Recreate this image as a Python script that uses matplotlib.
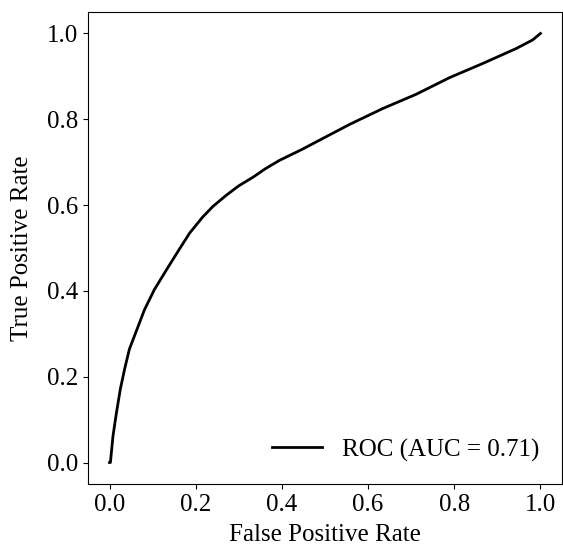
import matplotlib
matplotlib.use("Agg")
import matplotlib.pyplot as plt

fpr = [0.0, 0.002, 0.008, 0.016, 0.025, 0.035, 0.046, 0.062, 0.081, 0.104, 0.132,
       0.160, 0.186, 0.216, 0.240, 0.271, 0.300, 0.333, 0.362, 0.394, 0.449,
       0.500, 0.557, 0.634, 0.711, 0.789, 0.866, 0.944, 0.982, 1.0]
tpr = [0.0, 0.0, 0.062, 0.116, 0.171, 0.218, 0.264, 0.306, 0.356, 0.403, 0.449,
       0.494, 0.535, 0.572, 0.597, 0.623, 0.645, 0.665, 0.685, 0.704, 0.731,
       0.758, 0.788, 0.825, 0.858, 0.897, 0.930, 0.965, 0.985, 1.0]
auc = 0.71
ticks = [0.0, 0.2, 0.4, 0.6, 0.8, 1.0]

plt.rcParams['font.family'] = ['Liberation Serif', 'DejaVu Serif']
plt.rcParams['font.size'] = 18

fig = plt.figure(figsize=(5.63, 5.49), dpi=100)
ax = fig.add_axes([88/563, 65/549, (562-88)/563, (484-12)/549])
ax.plot(fpr, tpr, color='black', lw=2, label=f'ROC (AUC = {auc:.2f})')
ax.set_xticks(ticks)
ax.set_yticks(ticks)
ax.set_xticklabels([f'{t:.1f}' for t in ticks])
ax.set_yticklabels([f'{t:.1f}' for t in ticks])
ax.set_xlabel('False Positive Rate', labelpad=6)
ax.set_ylabel('True Positive Rate', labelpad=10)
ax.legend(loc='lower right', frameon=False)
fig.savefig('out.png', dpi=100)
